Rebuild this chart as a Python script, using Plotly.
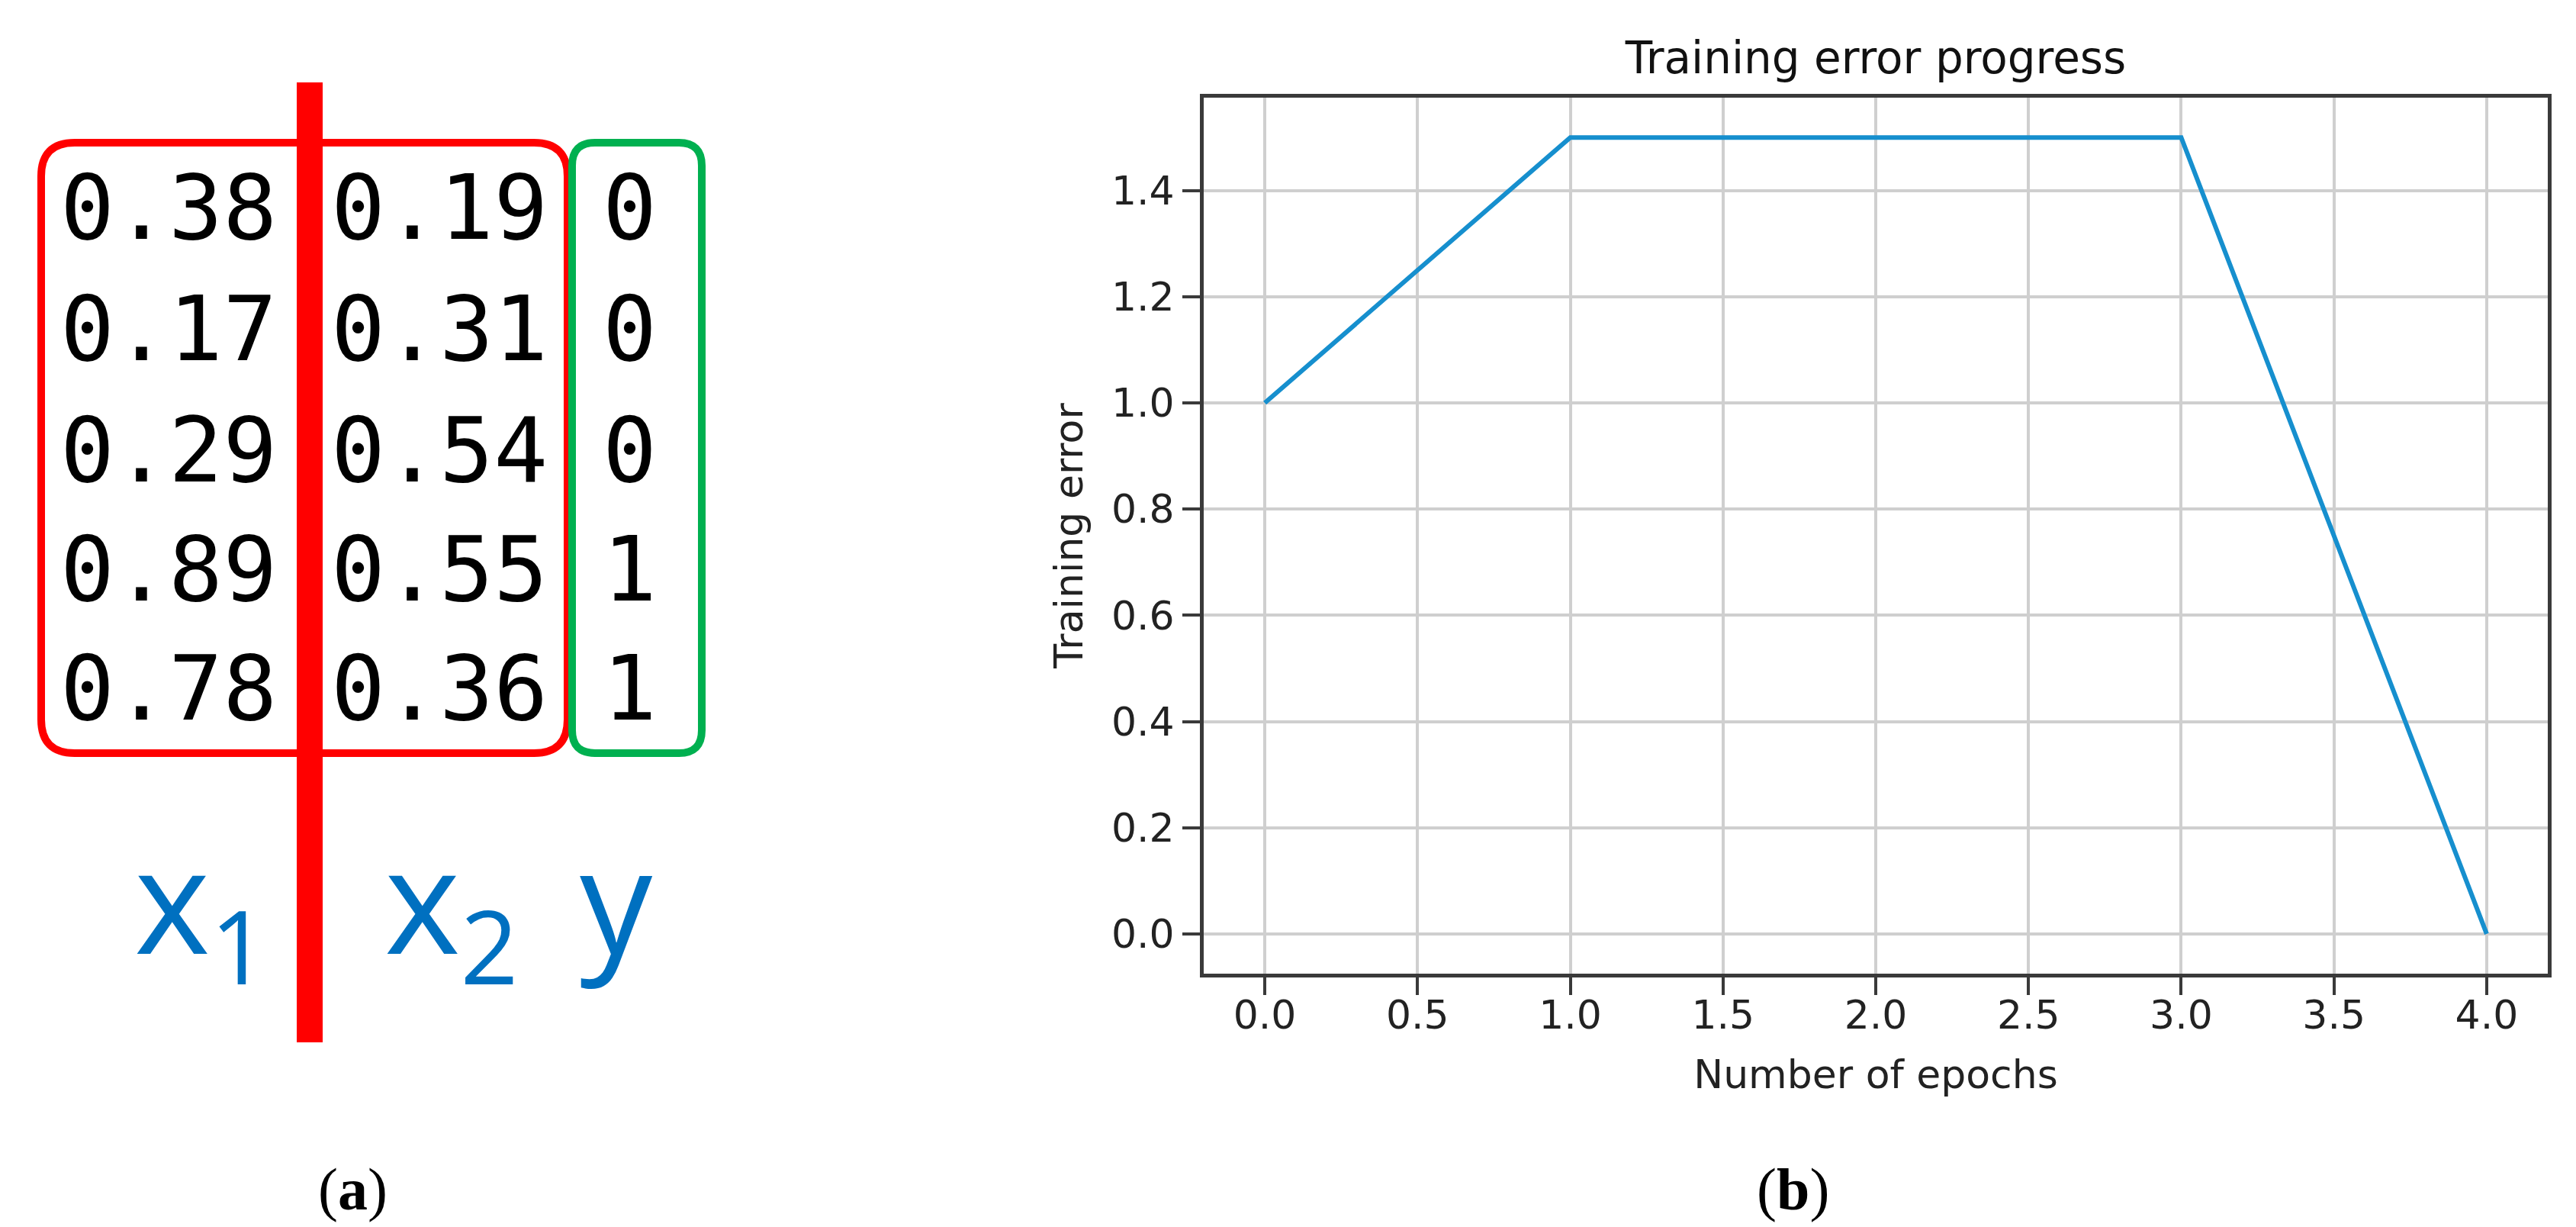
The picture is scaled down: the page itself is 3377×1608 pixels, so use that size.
import plotly.graph_objects as go

# ---------------- data ----------------
x1_values = [0.38, 0.17, 0.29, 0.89, 0.78]
x2_values = [0.19, 0.31, 0.54, 0.55, 0.36]
y_values = [0, 0, 0, 1, 1]

epochs = [0, 1, 2, 3, 4]
training_error = [1.0, 1.5, 1.5, 1.5, 0.0]

x_tick_vals = [0.0, 0.5, 1.0, 1.5, 2.0, 2.5, 3.0, 3.5, 4.0]
y_tick_vals = [0.0, 0.2, 0.4, 0.6, 0.8, 1.0, 1.2, 1.4]

# ---------------- helpers ----------------
W, H = 3377, 1608


def px(x):
    return x / W


def py(y):
    return 1 - y / H


def rounded_rect(x0, y0, x1, y1, r):
    pts = [
        ("M", (x0 + r, y0)),
        ("L", (x1 - r, y0)),
        ("Q", (x1, y0), (x1, y0 + r)),
        ("L", (x1, y1 - r)),
        ("Q", (x1, y1), (x1 - r, y1)),
        ("L", (x0 + r, y1)),
        ("Q", (x0, y1), (x0, y1 - r)),
        ("L", (x0, y0 + r)),
        ("Q", (x0, y0), (x0 + r, y0)),
    ]
    s = ""
    for item in pts:
        cmd = item[0]
        coords = " ".join(f"{px(p[0]):.5f},{py(p[1]):.5f}" for p in item[1:])
        s += f"{cmd} {coords} "
    return s + "Z"


fig = go.Figure()

fig.add_trace(go.Scatter(
    x=epochs, y=training_error, mode="lines",
    line=dict(color="#168fce", width=6),
    showlegend=False, hoverinfo="x+y",
))

# plot area in pixels
pl, pr, pt, pb = 1570, 3332, 120, 1268

axis_common = dict(
    showline=True, mirror=True, linecolor="#3a3a3a", linewidth=5,
    showgrid=True, gridcolor="#cfcfcf", gridwidth=3.5,
    zeroline=False, ticks="outside", ticklen=23, tickwidth=4,
    tickcolor="#3a3a3a",
    tickfont=dict(family="DejaVu Sans", size=52, color="#222222"),
)

fig.update_layout(
    width=W, height=H,
    margin=dict(l=0, r=0, t=0, b=0),
    paper_bgcolor="white", plot_bgcolor="white",
    xaxis=dict(
        domain=[px(pl), px(pr)], range=[-0.2, 4.2],
        tickvals=x_tick_vals, ticktext=[f"{v:.1f}" for v in x_tick_vals],
        ticklabelstandoff=-18,
        title=dict(text="Number of epochs", standoff=32,
                   font=dict(family="DejaVu Sans", size=52, color="#222222")),
        **axis_common,
    ),
    yaxis=dict(
        domain=[py(pb), py(pt)], range=[-0.075, 1.575],
        tickvals=y_tick_vals, ticktext=[f"{v:.1f}" for v in y_tick_vals],
        title=dict(text="Training error", standoff=22,
                   font=dict(family="DejaVu Sans", size=52, color="#222222")),
        **axis_common,
    ),
    title=dict(text="Training error progress", x=px((pl + pr) / 2), xanchor="center",
               y=py(68), yanchor="middle", xref="paper", yref="paper",
               font=dict(family="DejaVu Sans", size=58, color="#111111")),
)

shapes = []
# red rounded box around x1, x2
shapes.append(dict(type="path", xref="paper", yref="paper",
                   path=rounded_rect(46, 179, 736, 979, 44),
                   line=dict(color="#ff0000", width=10), fillcolor="rgba(0,0,0,0)"))
# green rounded box around y
shapes.append(dict(type="path", xref="paper", yref="paper",
                   path=rounded_rect(742, 179, 912, 979, 30),
                   line=dict(color="#00b050", width=10), fillcolor="rgba(0,0,0,0)"))
# red vertical separator
shapes.append(dict(type="rect", xref="paper", yref="paper",
                   x0=px(381), x1=px(415), y0=py(100), y1=py(1358),
                   line=dict(width=0), fillcolor="#ff0000"))
fig.update_layout(shapes=shapes)

annotations = []
row_y = [264, 423, 582, 738, 894]
mono = dict(family="DejaVu Sans Mono", size=118, color="#000000")
for i in range(len(x1_values)):
    annotations.append(dict(x=px(213), y=py(row_y[i]), xref="paper", yref="paper",
                            text=f"{x1_values[i]:.2f}", showarrow=False,
                            xanchor="center", yanchor="middle", font=mono))
    annotations.append(dict(x=px(568), y=py(row_y[i]), xref="paper", yref="paper",
                            text=f"{x2_values[i]:.2f}", showarrow=False,
                            xanchor="center", yanchor="middle", font=mono))
    annotations.append(dict(x=px(817), y=py(row_y[i]), xref="paper", yref="paper",
                            text=f"{y_values[i]}", showarrow=False,
                            xanchor="center", yanchor="middle", font=mono))

blue = dict(family="Open Sans", size=190, color="#0070c0")
annotations.append(dict(x=px(256), y=py(1180), xref="paper", yref="paper",
                        text="x<sub>1</sub>", showarrow=False,
                        xanchor="center", yanchor="middle", font=blue))
annotations.append(dict(x=px(584), y=py(1180), xref="paper", yref="paper",
                        text="x<sub>2</sub>", showarrow=False,
                        xanchor="center", yanchor="middle", font=blue))
annotations.append(dict(x=px(800), y=py(1168), xref="paper", yref="paper",
                        text="y", showarrow=False,
                        xanchor="center", yanchor="middle", font=blue))

serif = dict(family="Liberation Serif", size=78, color="#000000")
annotations.append(dict(x=px(454), y=py(1550), xref="paper", yref="paper",
                        text="(<b>a</b>)", showarrow=False,
                        xanchor="center", yanchor="middle", font=serif))
annotations.append(dict(x=px(2342), y=py(1550), xref="paper", yref="paper",
                        text="(<b>b</b>)", showarrow=False,
                        xanchor="center", yanchor="middle", font=serif))
fig.update_layout(annotations=annotations)

fig.write_html("out.html")
